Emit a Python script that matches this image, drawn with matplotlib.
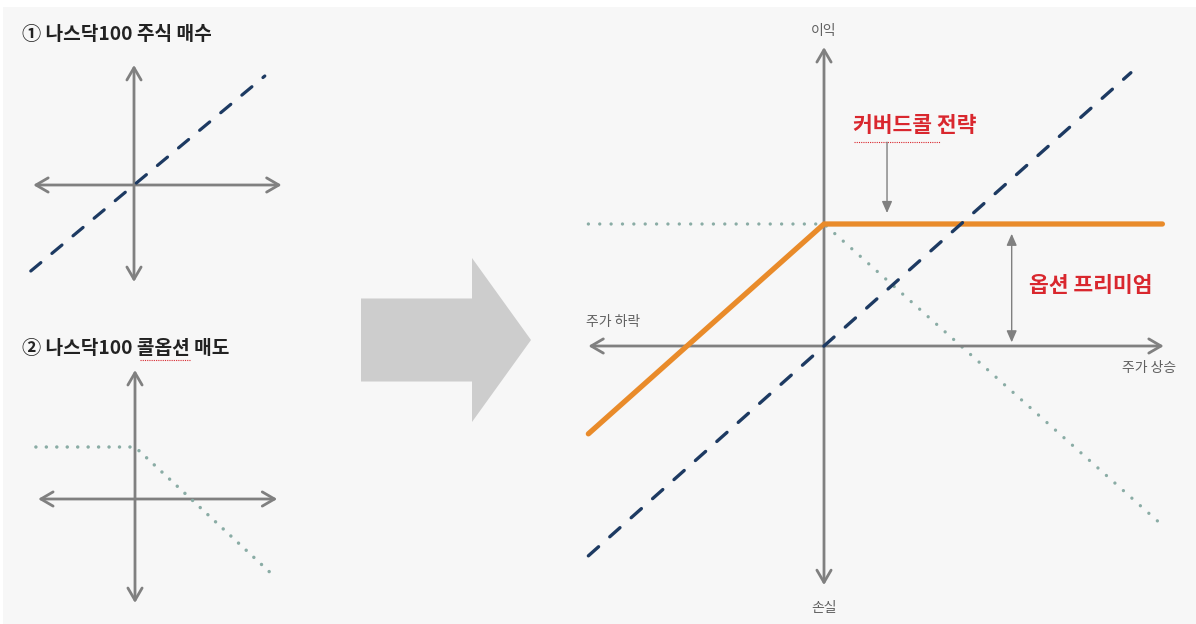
import matplotlib
matplotlib.use("Agg")
import matplotlib.pyplot as plt
from matplotlib.patches import FancyArrow, Rectangle

plt.rcParams['font.family'] = ['Noto Sans CJK KR', 'DejaVu Sans']

W, H = 1196, 624

# ---- data (payoff lines, in payoff units) ----
# panel 1: buy Nasdaq100 stock
stock1_x = [-0.86, 1.09]
stock1_y = [-0.86, 1.09]
axis1_x = [-0.84, 1.23]
axis1_y = [-0.97, 1.20]

# panel 2: sell Nasdaq100 call option (premium = 1)
call2_x = [-1.77, 0.0, 2.46]
call2_y = [1.0, 1.0, -1.46]
axis2_x = [-1.73, 2.54]
axis2_y = [-2.00, 2.48]

# big panel: covered call (premium = 1)
price_big = [-1.72, 0.0, 2.47]
call_big = [1.0, 1.0, -1.47]
covered_big = [-0.72, 1.0, 1.0]
stock_big_x = [-1.72, 2.24]
stock_big_y = [-1.72, 2.24]
axis_big_x = [-1.72, 2.48]
axis_big_y = [-1.96, 2.45]
premium = 1.0

titles = ['① 나스닥100 주식 매수', '② 나스닥100 콜옵션 매도']

GRAY = '#808080'
NAVY = '#1d3a62'
TEAL = '#8aaca5'
ORANGE = '#e98b2a'
RED = '#d9272e'

fig = plt.figure(figsize=(W / 100, H / 100), dpi=100)
fig.patch.set_facecolor('#f7f7f7')

# overlay in pixel coordinates for decoration
deco = fig.add_axes([0, 0, 1, 1])
deco.set_xlim(0, W)
deco.set_ylim(H, 0)
deco.axis('off')
deco.add_patch(Rectangle((0, 0), W, 7, facecolor='white', edgecolor='none'))
deco.add_patch(Rectangle((0, 0), 3, H, facecolor='white', edgecolor='none'))
deco.add_patch(FancyArrow(361, 340, 170, 0, width=83, head_width=164, head_length=59,
                          length_includes_head=True, facecolor='#cdcdcd', edgecolor='none'))


def panel(ox, oy, ux, uy):
    ax = fig.add_axes([0, 0, 1, 1])
    ax.set_xlim(-ox / ux, (W - ox) / ux)
    ax.set_ylim(-(H - oy) / uy, oy / uy)
    ax.axis('off')
    ax.patch.set_alpha(0)
    return ax


def axes_arrows(ax, xs, ys, ms):
    style = '<->,head_length=0.55,head_width=0.32'
    kw = dict(arrowstyle=style, color=GRAY, lw=2, mutation_scale=ms, shrinkA=0, shrinkB=0)
    ax.annotate('', xy=(xs[1], 0), xytext=(xs[0], 0), arrowprops=kw)
    ax.annotate('', xy=(0, ys[1]), xytext=(0, ys[0]), arrowprops=kw)


dash_style = (0, (4.1, 4.5))
dot_style = (0, (0.01, 3.4))

# panel 1
ax1 = panel(134, 185, 120, 100)
axes_arrows(ax1, axis1_x, axis1_y, 16)
ax1.plot(stock1_x, stock1_y, color=NAVY, lw=2.3, linestyle=dash_style, dash_capstyle='round', zorder=3)

# panel 2
ax2 = panel(135, 499, 56, 52)
axes_arrows(ax2, axis2_x, axis2_y, 16)
ax2.plot(call2_x, call2_y, color=TEAL, lw=2.5, linestyle=(0, (0.01, 3.0)), dash_capstyle='round', zorder=3)

# big panel
axb = panel(824, 346, 137, 122)
axes_arrows(axb, axis_big_x, axis_big_y, 16)
axb.plot(price_big, call_big, color=TEAL, lw=2.4, linestyle=dot_style, dash_capstyle='round', zorder=2)
axb.plot(price_big, covered_big, color=ORANGE, lw=3.8, solid_capstyle='round', zorder=3)
axb.plot(stock_big_x, stock_big_y, color=NAVY, lw=2.4, linestyle=dash_style, dash_capstyle='round', zorder=4)

# annotation arrows
axb.annotate('', xy=(0.46, premium + 0.09), xytext=(0.46, premium + 0.67),
             arrowprops=dict(arrowstyle='-|>,head_length=0.5,head_width=0.22', color=GRAY,
                             lw=1, mutation_scale=14, shrinkA=0, shrinkB=0))
axb.annotate('', xy=(1.37, 0.03), xytext=(1.37, premium - 0.08),
             arrowprops=dict(arrowstyle='<|-|>,head_length=0.5,head_width=0.22', color=GRAY,
                             lw=1, mutation_scale=14, shrinkA=0, shrinkB=0))

# texts
deco.text(22, 35, titles[0], fontsize=13.8, fontweight='bold', color='#222222', ha='left', va='center')
deco.text(22, 348, titles[1], fontsize=13.8, fontweight='bold', color='#222222', ha='left', va='center')
deco.plot([140, 190], [360, 360], color=RED, lw=0.8, linestyle=(0, (1, 1)))

deco.text(824, 31, '이익', fontsize=10, color='#606060', ha='center', va='center')
deco.text(824, 608, '손실', fontsize=10, color='#606060', ha='center', va='center')
deco.text(586, 322, '주가 하락', fontsize=10, color='#606060', ha='left', va='center')
deco.text(1176, 368, '주가 상승', fontsize=10, color='#606060', ha='right', va='center')

deco.text(853, 126, '커버드콜 전략', fontsize=15.5, fontweight='bold', color=RED, ha='left', va='center')
deco.plot([854, 940], [142, 142], color=RED, lw=0.8, linestyle=(0, (1, 1)))
deco.text(1029, 285, '옵션 프리미엄', fontsize=15.5, fontweight='bold', color=RED, ha='left', va='center')

fig.savefig('out.png', dpi=100, facecolor=fig.get_facecolor())
